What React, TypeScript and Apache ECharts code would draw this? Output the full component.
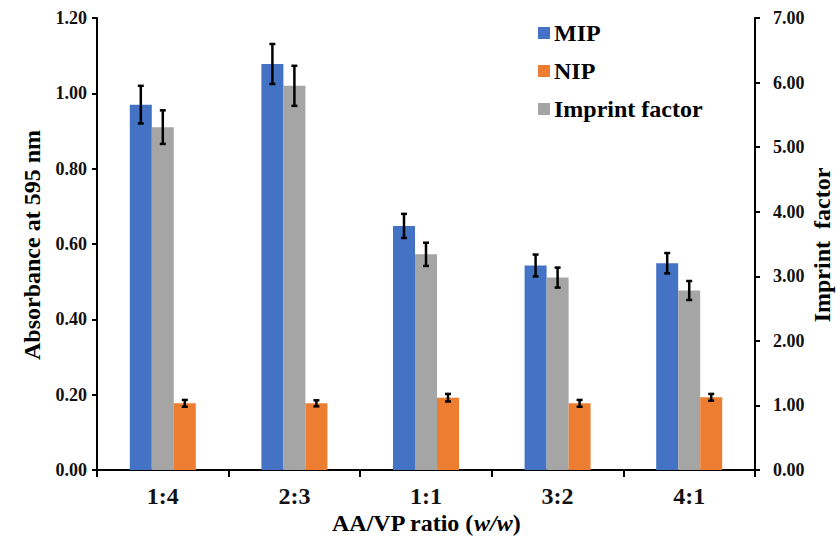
import React, { useEffect, useRef } from "react";
import * as echarts from "echarts";

const categories = ["1:4", "2:3", "1:1", "3:2", "4:1"];
const mipValues = [0.97, 1.078, 0.648, 0.543, 0.549];
const mipErrors = [0.05, 0.053, 0.032, 0.029, 0.027];
const nipValues = [0.177, 0.177, 0.192, 0.177, 0.193];
const nipErrors = [0.009, 0.008, 0.01, 0.009, 0.009];
const ifValues = [5.31, 5.95, 3.34, 2.98, 2.78];
const ifErrors = [0.26, 0.31, 0.18, 0.155, 0.147];

const FONT = "'Liberation Serif', 'Times New Roman', serif";
const TXT = "#111";

function errData(vals: number[], errs: number[]) {
  return vals.map((v, i) => [i, v - errs[i], v + errs[i]]);
}

function makeErr(offset: number) {
  return (params: any, api: any) => {
    const x = api.value(0);
    const lo = api.coord([x, api.value(1)]);
    const hi = api.coord([x, api.value(2)]);
    const cx = lo[0] + offset;
    const w = 3;
    const st = { stroke: "#000", lineWidth: 2.5 };
    return {
      type: "group",
      children: [
        { type: "line", shape: { x1: cx, y1: lo[1], x2: cx, y2: hi[1] }, style: st },
        { type: "line", shape: { x1: cx - w, y1: hi[1], x2: cx + w, y2: hi[1] }, style: st },
        { type: "line", shape: { x1: cx - w, y1: lo[1], x2: cx + w, y2: lo[1] }, style: st },
      ],
    };
  };
}

export default function App() {
  const ref = useRef<HTMLDivElement>(null);
  useEffect(() => {
    if (!ref.current) return;
    const chart = echarts.init(ref.current, null, { renderer: "svg" });
    const axisLine = { show: true, lineStyle: { color: "#000", width: 2 } };
    const option: any = {
      animation: false,
      backgroundColor: "#fff",
      grid: { left: 97, right: 81, top: 18, bottom: 73, containLabel: false, outerBoundsMode: "none" },
      legend: {
        data: ["MIP", "NIP", "Imprint factor"],
        orient: "vertical",
        left: 533,
        top: 16,
        itemWidth: 12,
        itemHeight: 12,
        itemGap: 14,
        icon: "rect",
        textStyle: { fontFamily: FONT, fontWeight: "bold", fontSize: 24, lineHeight: 24, color: "#000", padding: [0, 0, 0, -1] },
      },
      xAxis: {
        type: "category",
        data: categories,
        axisLine,
        axisTick: { show: true, length: 7, lineStyle: { color: "#000", width: 2 } },
        axisLabel: { fontFamily: FONT, fontWeight: "bold", fontSize: 24, color: TXT, margin: 14 },
        splitLine: { show: false },
      },
      yAxis: [
        {
          type: "value",
          min: 0,
          max: 1.2,
          interval: 0.2,
          axisLine,
          axisTick: { show: true, length: 5, lineStyle: { color: "#000", width: 2 } },
          axisLabel: {
            fontFamily: FONT, fontWeight: "bold", fontSize: 18, color: TXT, margin: 10,
            formatter: (v: number) => v.toFixed(2),
          },
          splitLine: { show: false },
        },
        {
          type: "value",
          min: 0,
          max: 7,
          interval: 1,
          position: "right",
          axisLine,
          axisTick: { show: true, length: 5, lineStyle: { color: "#000", width: 2 } },
          axisLabel: {
            fontFamily: FONT, fontWeight: "bold", fontSize: 18, color: TXT, margin: 18,
            formatter: (v: number) => v.toFixed(2),
          },
          splitLine: { show: false },
        },
      ],
      graphic: [
        {
          type: "text", x: 32, y: 245, rotation: Math.PI / 2,
          style: { text: "Absorbance at 595 nm", fontFamily: FONT, fontWeight: "bold", fontSize: 24, fill: "#000", textAlign: "center", textVerticalAlign: "middle" },
        },
        {
          type: "text", x: 822, y: 245, rotation: Math.PI / 2,
          style: { text: "Imprint  factor", fontFamily: FONT, fontWeight: "bold", fontSize: 24, fill: "#000", textAlign: "center", textVerticalAlign: "middle" },
        },
        {
          type: "text", x: 426, y: 523,
          style: {
            text: "{a|AA/VP ratio (}{b|w/w}{a|)}",
            textAlign: "center", textVerticalAlign: "middle",
            rich: {
              a: { fontFamily: FONT, fontWeight: "bold", fontSize: 24, fill: "#000", color: "#000" },
              b: { fontFamily: FONT, fontWeight: "bold", fontStyle: "italic", fontSize: 24, fill: "#000", color: "#000" },
            },
          },
        },
      ],
      series: [
        { name: "MIP", type: "bar", data: mipValues, barWidth: 22, barGap: "0%", itemStyle: { color: "#4472C4" } },
        { name: "Imprint factor", type: "bar", yAxisIndex: 1, data: ifValues, barWidth: 22, barGap: "0%", itemStyle: { color: "#A5A5A5" } },
        { name: "NIP", type: "bar", data: nipValues, barWidth: 22, barGap: "0%", itemStyle: { color: "#ED7D31" } },
        { name: "MIP-err", type: "custom", renderItem: makeErr(-22), data: errData(mipValues, mipErrors), encode: { x: 0, y: [1, 2] }, z: 10 },
        { name: "IF-err", type: "custom", yAxisIndex: 1, renderItem: makeErr(0), data: errData(ifValues, ifErrors), encode: { x: 0, y: [1, 2] }, z: 10 },
        { name: "NIP-err", type: "custom", renderItem: makeErr(22), data: errData(nipValues, nipErrors), encode: { x: 0, y: [1, 2] }, z: 10 },
      ],
    };
    chart.setOption(option);
    return () => chart.dispose();
  }, []);
  return <div ref={ref} style={{ position: "fixed", left: 0, top: 0, width: 836, height: 543 }} />;
}
